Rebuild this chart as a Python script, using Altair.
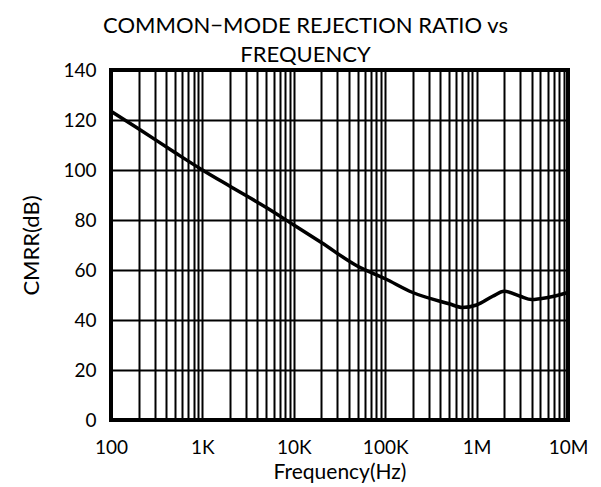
import altair as alt
import pandas as pd

freq = [100, 200, 500, 1e3, 2e3, 5e3, 1e4, 2e4, 5e4, 1e5, 2e5, 5e5, 7e5, 1e6, 1.5e6, 2e6, 3e6, 4e6, 6e6, 1e7]
cmrr = [123.5, 116.5, 107, 100, 93.5, 85, 78, 71, 61.5, 56.5, 51, 46.5, 45, 46, 49.5, 51.5, 49.5, 48.2, 49, 51]

decades = [100, 1e3, 1e4, 1e5, 1e6, 1e7]
decade_labels = ["100", "1K", "10K", "100K", "1M", "10M"]
grid_x = [d * m for d in decades[:-1] for m in range(1, 10)] + [decades[-1]]
y_ticks = [0, 20, 40, 60, 80, 100, 120, 140]

df = pd.DataFrame({"f": freq, "cmrr": cmrr})

label_expr = " : ".join(
    f"datum.value == {d:g} ? '{l}'" for d, l in zip(decades, decade_labels)
) + " : ''"

FONT = "Lato"
xscale = alt.Scale(type="log", domain=[100, 1e7], nice=False)
yscale = alt.Scale(domain=[0, 140], nice=False)

yaxis = alt.Axis(
    values=y_ticks,
    title="CMRR(dB)",
    grid=True,
    gridColor="black",
    gridWidth=2,
    gridOpacity=1,
    ticks=False,
    domain=False,
    labelPadding=15,
    labelFontSize=19,
    labelColor="black",
    labelFont=FONT,
    titleFont=FONT,
    titleFontSize=22,
    titleFontWeight="normal",
    titleColor="black",
    titlePadding=19,
)

grid_layer = (
    alt.Chart(df)
    .mark_line(opacity=0)
    .encode(
        x=alt.X(
            "f:Q",
            scale=xscale,
            axis=alt.Axis(
                values=grid_x,
                labels=False,
                title=None,
                grid=True,
                gridColor="black",
                gridWidth=2,
                gridOpacity=1,
                ticks=False,
                domain=False,
                orient="bottom",
            ),
        ),
        y=alt.Y("cmrr:Q", scale=yscale, axis=yaxis),
    )
)

line_layer = (
    alt.Chart(df)
    .mark_line(color="black", strokeWidth=3.5, interpolate="monotone")
    .encode(
        x=alt.X(
            "f:Q",
            scale=xscale,
            axis=alt.Axis(
                values=decades,
                labelExpr=label_expr,
                title="Frequency(Hz)",
                grid=False,
                ticks=False,
                domain=False,
                orient="bottom",
                labelPadding=18,
                labelFontSize=19,
                labelColor="black",
                labelFont=FONT,
                titleFont=FONT,
                titleFontSize=21,
                titleFontWeight="normal",
                titleColor="black",
                titlePadding=4,
                labelOverlap=False,
                labelFlush=False,
            ),
        ),
        y=alt.Y("cmrr:Q", scale=yscale, axis=yaxis),
    )
)

chart = (
    alt.layer(grid_layer, line_layer)
    .resolve_axis(x="independent")
    .properties(
        width=457,
        height=350,
        autosize=alt.AutoSizeParams(type="none"),
        padding={"left": 103, "top": 62, "right": 25, "bottom": 70},
        title=alt.TitleParams(
            text=["COMMON\u2212MODE REJECTION RATIO vs", "FREQUENCY"],
            font=FONT,
            fontSize=22,
            fontWeight="normal",
            color="black",
            anchor="middle",
            dx=-34,
            dy=10,
            lineHeight=29,
            offset=4,
        ),
    )
    .configure_view(stroke="black", strokeWidth=4)
)

chart.save("out.html", embed_options={"renderer": "svg", "actions": False})
